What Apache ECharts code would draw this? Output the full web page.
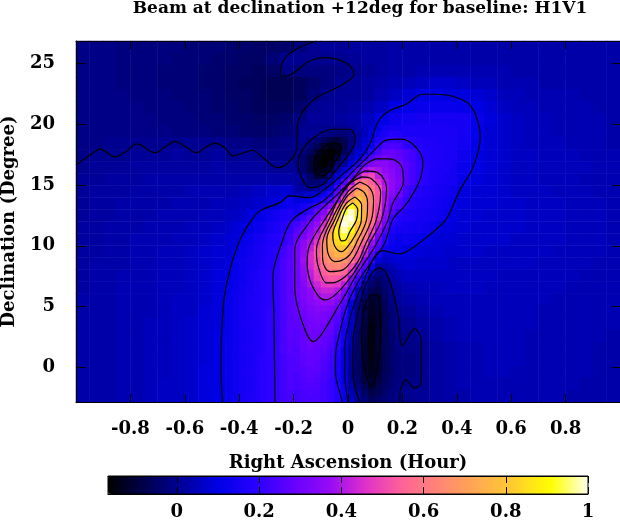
<!DOCTYPE html>
<html>
<head>
<meta charset="utf-8">
<script src="https://cdn.jsdelivr.net/npm/echarts@6/dist/echarts.min.js"></script>
<style>
html,body{margin:0;padding:0;background:#fff}
#main{width:620px;height:521px}
</style>
</head>
<body>
<div id="main"></div>
<script>
var raMin = -1, raMax = 1;
var decMin = -2.85, decMax = 26.85;
var barMin = -0.1675, barMax = 1;
var raTicks = [-0.8,-0.6,-0.4,-0.2,0,0.2,0.4,0.6,0.8];
var decTicks = [0,5,10,15,20,25];
var barTicks = [0,0.2,0.4,0.6,0.8,1];

// beam power in percent, top row first, whole map
var coarse = [
[-1,-1,-1,-2,-2,-2,-2,-2,-3,-3,-3,-4,-4,-5,-5,-4,-2,0,1,1,2,2,2,3,3,3,3,3,3,3,3,3,3,3,3,3,3,3,3,3],
[-1,-1,-1,-2,-2,-2,-2,-3,-3,-3,-4,-4,-5,-5,-3,0,0,0,0,0,1,2,2,3,3,3,3,3,3,3,3,3,3,3,3,3,3,3,3,3],
[-1,-1,-1,-2,-2,-2,-3,-3,-3,-4,-4,-5,-5,-6,-5,-1,-2,-2,-2,-1,0,1,2,3,3,4,4,4,4,4,4,4,3,3,3,3,3,3,3,3],
[-1,-1,-1,-2,-2,-2,-3,-3,-3,-4,-4,-5,-6,-6,-7,-7,-6,-4,-2,0,1,2,3,4,5,6,7,7,6,5,5,4,4,4,3,3,3,3,3,3],
[-1,-1,-1,-1,-2,-2,-2,-3,-3,-3,-4,-5,-5,-6,-7,-7,-6,-3,0,1,1,2,4,6,8,10,10,9,9,8,7,5,5,4,4,4,4,3,3,3],
[-1,-1,-1,-1,-1,-2,-2,-2,-3,-3,-4,-4,-5,-6,-6,-6,-4,0,1,1,2,4,6,10,11,12,12,12,11,10,8,6,5,5,4,4,4,4,3,3],
[-1,-1,-1,-1,-1,-1,-2,-2,-2,-3,-3,-4,-4,-5,-5,-4,-1,1,1,2,3,6,10,13,14,15,15,15,15,12,9,7,6,5,5,4,4,4,4,3],
[-1,-1,-1,-1,-1,-1,-1,-2,-2,-2,-3,-3,-4,-4,-4,-3,0,0,-1,-1,2,6,12,15,16,16,16,16,15,11,8,7,6,5,5,4,4,4,4,3],
[-1,-1,0,0,0,0,0,0,0,0,0,-1,-1,-2,-2,-1,0,-1,-8,-10,0,9,17,21,20,18,17,16,14,11,8,7,6,5,5,5,4,4,4,3],
[-1,0,0,0,1,1,1,2,1,1,2,0,1,0,-1,-1,0,-6,-14,-9,2,14,23,28,24,20,17,16,13,10,8,7,6,6,5,5,5,4,4,4],
[0,1,1,1,2,2,2,2,2,2,3,2,2,2,1,1,-2,-11,-17,0,18,36,36,31,24,20,17,15,12,10,8,7,6,6,5,5,5,5,4,4],
[1,1,2,2,2,3,3,3,3,3,3,3,3,3,3,3,-1,-6,-3,10,30,52,46,36,26,19,17,15,11,9,8,7,6,6,5,5,5,4,4,4],
[1,2,2,2,3,3,3,3,4,4,4,4,5,6,7,8,5,6,13,30,65,65,52,36,21,17,16,13,9,8,8,7,6,6,6,5,5,5,4,4],
[1,2,2,3,3,3,3,4,4,4,5,5,6,7,8,11,10,13,25,55,80,72,52,30,20,16,15,11,9,8,8,7,7,6,6,6,5,5,5,4],
[1,2,2,3,3,3,4,4,4,5,5,6,8,11,14,18,18,25,38,85,95,72,50,28,16,15,13,9,8,8,7,7,7,6,6,6,5,5,5,4],
[2,2,3,3,3,4,4,4,5,5,6,8,10,13,16,20,25,32,50,85,92,68,45,22,14,12,10,8,8,7,7,7,7,6,6,6,5,5,5,4],
[2,2,3,3,4,4,4,5,5,6,7,9,11,14,18,22,30,38,62,85,85,58,35,17,12,10,8,7,7,7,7,7,6,6,6,6,5,5,5,4],
[2,2,3,3,4,4,5,5,6,7,8,9,12,15,18,24,32,42,66,78,70,50,28,10,9,8,7,7,7,7,6,6,6,6,6,5,5,5,5,4],
[2,3,3,3,4,4,5,5,6,7,8,10,13,16,19,24,32,45,62,70,60,38,20,7,8,7,7,6,6,6,6,6,6,6,5,5,5,5,4,4],
[2,3,3,4,4,4,5,5,6,7,9,11,14,17,20,24,31,44,56,58,45,25,0,2,6,6,6,6,6,6,6,5,5,5,5,5,5,4,4,4],
[2,3,3,4,4,4,5,5,6,7,9,11,14,17,20,25,31,40,47,47,29,0,-7,0,4,5,5,6,6,6,5,5,5,5,5,5,4,4,4,4],
[3,3,3,4,4,4,5,6,6,7,9,12,15,18,20,25,30,35,40,38,22,-4,-10,-3,3,4,5,5,5,5,5,5,5,5,5,4,4,4,4,4],
[3,3,3,4,4,4,5,6,6,8,9,12,15,18,20,25,29,33,35,30,12,-10,-11,-5,1,3,4,5,5,5,5,5,5,5,4,4,4,4,4,4],
[3,3,3,4,4,5,5,6,7,8,9,12,15,18,20,25,28,31,32,25,8,-9,-12,-6,0,2,3,4,5,5,5,5,5,5,4,4,4,4,4,4],
[3,3,3,4,4,5,5,6,7,8,10,12,15,18,20,25,27,30,29,22,6,-10,-12,-6,-1,1,3,4,5,5,5,5,5,4,4,4,4,4,4,3],
[3,3,3,4,4,5,5,6,7,8,10,12,15,18,20,25,26,28,27,18,-3,-14,-12,-3,-1,0,2,3,4,4,5,5,5,4,4,4,4,4,3,3],
[3,3,3,4,4,5,5,6,7,8,10,13,15,18,20,24,25,27,24,17,-2,-14,-11,-4,-2,0,2,3,4,4,5,5,5,4,4,4,4,4,3,3],
[3,3,3,4,4,5,5,6,7,9,10,13,15,18,20,24,25,26,23,15,-2,-13,-11,-5,-2,0,2,3,4,4,5,5,4,4,4,4,4,4,3,3],
[3,3,3,4,4,5,6,6,7,9,10,13,15,18,20,24,24,25,22,15,-1,-11,-9,-3,-1,0,2,3,4,4,4,4,4,4,4,4,4,3,3,3],
[3,3,3,4,4,5,6,6,7,9,10,13,15,18,20,24,23,24,22,19,3,-7,-7,-2,0,1,2,3,3,4,4,4,4,4,4,4,3,3,3,3]
];

// left and right shoulders of the lobe, half width cells
var leftCol = 22, leftRow = 13;
var leftShoulder = [
[5,5,6,6,7,7,8,9,11,13],
[6,6,7,9,10,11,13,14,16,17],
[7,8,9,10,12,13,15,16,18,21],
[8,9,11,12,14,15,17,18,20,23],
[8,10,12,13,15,16,18,19,23,26],
[9,11,13,14,15,17,18,20,24,27],
[10,12,13,15,16,18,19,21,24,27],
[11,12,14,15,17,18,19,21,24,27],
[11,13,14,16,17,18,19,21,24,27],
[11,13,15,16,17,18,20,21,24,27],
[11,13,15,16,17,18,20,21,24,27],
[11,13,15,16,17,18,20,21,24,27],
[12,13,15,16,17,18,20,21,24,26],
[12,13,15,16,17,19,20,21,23,25],
[12,13,15,16,17,19,20,21,23,25],
[12,13,15,16,17,19,20,21,23,25],
[12,13,15,16,17,19,20,21,23,24]
];
var rightCol = 48, rightRow = 7;
var rightShoulder = [
[16,16,16,16,16,16,16,16],
[20,19,18,17,17,16,16,16],
[25,23,20,18,17,17,16,16],
[27,24,21,19,17,16,16,15],
[27,24,21,19,17,16,15,15],
[24,21,18,17,16,15,14,13],
[21,18,16,16,15,14,13,12],
[17,16,15,15,14,13,12,10],
[15,14,14,13,12,10,9,9],
[13,12,11,10,9,8,8,8],
[10,9,9,8,8,8,7,7],
[8,8,7,7,7,7,7,6],
[6,6,6,6,6,6,6,6]
];

// finest cells over the hole, the main lobe and the trough
var lobeCol = 32, lobeRow = 14;
var lobe = [
[-1,0,0,0,0,0,0,0,1,3,5,8,11,14,15,15],
[-1,1,1,1,-1,-2,-3,-3,-1,2,5,9,13,16,18,18],
[0,0,-1,-3,-6,-9,-10,-7,-2,3,7,10,17,19,21,21],
[0,-1,-3,-7,-11,-14,-13,-8,-1,4,8,13,20,24,25,24],
[0,-2,-6,-10,-15,-17,-15,-6,1,7,10,19,24,28,29,27],
[-1,-4,-9,-14,-17,-17,-10,-1,5,9,19,25,30,32,30,28],
[-1,-4,-9,-15,-17,-14,-3,2,9,18,28,33,35,35,33,31],
[0,-4,-9,-14,-14,-10,2,8,17,28,38,41,39,36,34,31],
[2,0,-5,-10,-10,1,7,15,25,38,48,50,42,38,35,32],
[2,-1,-3,-4,0,5,14,25,38,56,60,54,46,39,36,33],
[3,2,0,1,5,10,22,33,48,65,68,60,52,41,36,32],
[5,6,7,8,12,18,28,42,60,73,72,62,53,39,34,30],
[9,10,11,14,18,25,36,52,74,82,74,62,53,39,31,26],
[12,15,17,22,28,35,50,70,92,84,72,61,51,38,29,25],
[14,17,21,29,34,43,66,92,99,86,74,61,49,36,26,20],
[18,22,27,33,38,53,77,98,100,87,74,60,46,34,22,18],
[23,27,32,37,45,62,84,100,97,80,70,56,42,31,19,16],
[26,29,34,39,50,70,88,98,91,77,65,51,37,25,17,14],
[28,32,37,43,56,75,87,93,85,72,60,45,32,21,15,12],
[30,35,39,47,65,76,84,88,80,66,54,38,27,19,13,11],
[31,36,42,52,66,74,80,80,72,58,47,33,24,14,12,11],
[32,37,45,53,65,71,75,74,66,53,41,26,15,8,8,10],
[31,38,45,51,62,68,70,67,60,50,32,21,9,6,7,8],
[31,37,44,50,58,63,64,61,50,38,26,12,2,3,5,7],
[30,36,42,48,54,58,58,55,45,30,21,7,-2,0,3,5],
[30,35,41,47,51,53,52,48,35,23,12,-2,-5,-2,2,4],
[30,34,39,43,47,48,46,41,29,17,2,-4,-7,-3,1,3],
[31,33,36,41,43,43,41,33,23,6,-2,-7,-8,-4,0,2],
[30,33,35,38,40,40,37,30,20,4,-4,-10,-10,-5,-1,2],
[29,32,34,36,37,36,33,26,10,1,-7,-12,-10,-6,-1,1],
[29,31,33,34,34,33,30,23,9,-1,-10,-13,-11,-6,-2,0],
[28,30,32,33,32,31,27,20,8,-2,-8,-13,-12,-7,-3,0],
[27,30,31,32,32,29,25,18,7,-3,-9,-14,-12,-7,-3,-1],
[27,29,31,31,30,28,24,16,6,-3,-10,-15,-12,-7,-3,-1],
[26,28,30,30,29,27,23,15,5,-4,-10,-15,-11,-7,-4,-1],
[26,28,30,30,28,26,21,14,4,-4,-11,-15,-11,-7,-4,-1],
[26,28,30,29,28,25,20,13,3,-5,-11,-15,-11,-7,-4,-1],
[25,28,29,28,27,24,19,10,2,-5,-11,-15,-11,-7,-4,-2],
[25,27,28,28,26,23,18,10,1,-5,-11,-15,-11,-7,-4,-2],
[25,27,28,27,25,23,17,10,1,-5,-11,-14,-11,-7,-4,-2],
[25,26,27,27,25,22,17,10,1,-5,-11,-14,-11,-7,-4,-2],
[24,26,27,26,24,22,16,10,0,-5,-10,-13,-10,-6,-4,-2],
[24,25,26,25,24,21,16,11,1,-4,-9,-11,-9,-6,-3,-2],
[24,25,25,25,23,21,18,12,2,-2,-7,-10,-8,-5,-3,-1],
[23,24,25,24,23,21,19,13,4,0,-5,-8,-7,-4,-2,-1],
[23,24,24,24,23,21,18,12,6,1,-3,-6,-5,-3,-2,0]
];

// contour lines as [ra, dec]
var contourWave = [[-1,16.65],[-0.948,17.47],[-0.911,17.96],[-0.856,17.31],[-0.819,17.71],[-0.776,18.38],[-0.709,17.66],[-0.673,18.13],[-0.636,18.6],[-0.596,18.13],[-0.556,17.66],[-0.522,18.13],[-0.489,18.44],[-0.452,18.05],[-0.423,17.39],[-0.386,17.64],[-0.35,17.86],[-0.313,17.25],[-0.258,16.43],[-0.214,16.98],[-0.188,18.08],[-0.185,20.03],[-0.159,21.26],[-0.116,22.19],[-0.019,23.29],[0.022,24.11],[0,24.93],[-0.079,25.48],[-0.141,25.21],[-0.226,23.97],[-0.248,23.97],[-0.244,24.93],[-0.202,26.03],[-0.116,26.85]];
var contourHoleOuter = [[-0.183,17.25],[-0.141,18.63],[-0.055,19.59],[0.006,19.59],[0.027,18.77],[0.006,17.66],[-0.037,16.43],[-0.092,15.07],[-0.141,14.79],[-0.171,15.61],[-0.183,16.71],[-0.183,17.25]];
var contourHoleInner = [[-0.128,16.71],[-0.104,17.8],[-0.055,18.49],[-0.024,18.08],[-0.049,16.84],[-0.092,15.75],[-0.122,16.02],[-0.128,16.71]];
var contour01 = [[-0.461,-2.84],[-0.467,-0.21],[-0.465,2.53],[-0.456,5.55],[-0.434,8.02],[-0.397,10.48],[-0.354,12.13],[-0.324,12.87],[-0.251,13.55],[-0.214,14.1],[-0.141,13.96],[-0.093,14.52],[-0.019,15.89],[0.043,17.12],[0.08,18.36],[0.116,20.41],[0.164,21.23],[0.214,21.65],[0.274,22.47],[0.324,22.47],[0.434,21.86],[0.471,20.68],[0.486,18.9],[0.459,16.43],[0.41,14.52],[0.361,12.19],[0.3,10.9],[0.226,9.66],[0.19,9.33],[0.128,9.61],[0.049,6.64],[0.006,3.91],[-0.012,1.44],[-0.012,-0.45],[0,-2.84]];
var contour02 = [[-0.269,-2.84],[-0.272,3.91],[-0.276,7.47],[-0.244,10.21],[-0.208,12.05],[-0.141,13.12],[-0.093,13.64],[-0.03,15.01],[0.017,16.08],[0.061,17.06],[0.098,17.89],[0.141,18.69],[0.196,18.77],[0.251,18.08],[0.275,16.84],[0.263,15.34],[0.214,13.42],[0.165,12.19],[0.135,10.24],[0.098,9.01],[0.049,7.47],[0,5.3],[-0.037,2.26],[-0.046,0.89],[-0.046,-0.45],[-0.03,-2.1],[-0.021,-2.84]];
var contourTroughOuter = [[0.043,-2.84],[0.018,-0.45],[0.018,2.01],[0.037,4.48],[0.068,6.95],[0.116,8.18],[0.147,7.47],[0.183,4.48],[0.2,1.77],[0.245,3.17],[0.269,2.26],[0.269,-1.27],[0.245,-1.69],[0.214,-1.03],[0.19,-2.4],[0.19,-2.84]];
var contourTroughInner = [[0.086,5.96],[0.114,5.69],[0.12,2.84],[0.098,-1.27],[0.086,-1.58],[0.068,-0.76],[0.049,2.26],[0.061,5],[0.086,5.96]];
var contour03 = [[0.102,17.15],[0.153,17.15],[0.196,16.57],[0.204,15.34],[0.164,13.45],[0.146,12.05],[0.098,9.9],[0.031,7.61],[-0.006,6.13],[-0.043,4.73],[-0.079,3.36],[-0.104,2.53],[-0.128,2.12],[-0.171,3.91],[-0.196,6.62],[-0.196,9.66],[-0.141,11.96],[-0.093,13.12],[-0.045,14.1],[0.017,15.5],[0.061,16.65],[0.102,17.15]];
var contour04 = [[0.061,16.16],[0.109,16.02],[0.142,14.76],[0.123,12.13],[0.08,10.24],[0.037,8.29],[-0.006,6.95],[-0.055,5.82],[-0.086,5.55],[-0.133,6.78],[-0.15,8.59],[-0.141,10.07],[-0.086,12.13],[-0.012,14.6],[0.032,15.75],[0.061,16.16]];
var contour05 = [[0.05,15.67],[0.087,15.5],[0.12,14.43],[0.104,12.13],[0.065,10.16],[0.036,8.68],[-0.012,7.44],[-0.06,6.95],[-0.079,6.95],[-0.111,8.43],[-0.116,9.66],[-0.071,12.13],[-0.008,14.84],[0.05,15.67]];
var contour06 = [[0.043,15.25],[0.08,14.76],[0.094,13.77],[0.086,12.13],[0.05,10.32],[0.021,9.01],[-0.019,8.02],[-0.067,7.88],[-0.093,8.84],[-0.094,10.07],[-0.06,12.13],[-0.001,14.43],[0.043,15.25]];
var contour07 = [[0.032,14.76],[0.061,14.35],[0.072,13.53],[0.068,12.13],[0.036,10.49],[0.006,9.25],[-0.027,8.76],[-0.049,8.7],[-0.074,9.42],[-0.078,10.49],[-0.049,12.13],[-0.008,13.94],[0.032,14.76]];
var contour08 = [[0.025,14.02],[0.05,13.36],[0.049,12.13],[0.025,10.81],[-0.005,9.83],[-0.024,9.52],[-0.049,9.99],[-0.056,10.9],[-0.038,12.13],[-0.008,13.45],[0.025,14.02]];
var contour09 = [[0.017,13.53],[0.036,12.96],[0.031,12.13],[0.006,11.14],[-0.008,10.49],[-0.023,10.4],[-0.034,11.14],[-0.023,12.13],[-0.005,13.12],[0.017,13.53]];
var contours = [contourWave,contourHoleOuter,contourHoleInner,contour01,contour02,contourTroughOuter,contourTroughInner,contour03,contour04,contour05,contour06,contour07,contour08,contour09];

var palette = ['#000000','#00004d','#00009a','#0000e7','#2800ff','#6400ff','#960af5','#e132c8','#ff6496','#ff8773','#ffaa50','#ffcd2d','#ffff00','#ffffeb'];

var labelFont = {fontFamily:'DejaVu Serif',fontWeight:'bold',fontSize:18,color:'#000'};

function cells(rows,col0,row0,rowCount){
	var out = [];
	rows.forEach(function(row,r){
		row.forEach(function(v,c){
			out.push([col0+c,rowCount-1-(row0+r),v/100]);
		});
	});
	return out;
}

function indexes(n){
	var a = [];
	for(var i=0;i<n;i++) a.push(i);
	return a;
}

function frameAxis(pos,min,max,ticks,len,margin,extra){
	var ax = {
		type:'value',
		position:pos,
		min:min,
		max:max,
		z:10,
		splitLine:{show:false},
		axisLine:{show:true,onZero:false,lineStyle:{color:'#000',width:1}},
		axisTick:{show:true,inside:true,length:len,customValues:ticks,lineStyle:{color:'#000',width:1}},
		axisLabel:margin?Object.assign({show:true,customValues:ticks,margin:margin},labelFont):{show:false}
	};
	return Object.assign(ax,extra||{});
}

var series = [
	{type:'heatmap',xAxisIndex:0,yAxisIndex:0,data:cells(coarse,0,0,30),animation:false,z:1},
	{type:'heatmap',xAxisIndex:1,yAxisIndex:0,data:cells(leftShoulder,leftCol,leftRow,30).concat(cells(rightShoulder,rightCol,rightRow,30)),animation:false,z:2},
	{type:'heatmap',xAxisIndex:1,yAxisIndex:1,data:cells(lobe,lobeCol,lobeRow,60),animation:false,z:2}
];
contours.forEach(function(c){
	series.push({
		type:'line',xAxisIndex:2,yAxisIndex:2,data:c,smooth:0.35,showSymbol:false,symbol:'none',
		lineStyle:{color:'#000',width:1.2},animation:false,silent:true,z:3
	});
});

var myChart = echarts.init(document.getElementById('main'),null,{renderer:'canvas'});
myChart.setOption({
	backgroundColor:'#fff',
	animation:false,
	title:{
		text:'Beam at declination +12deg for baseline: H1V1',
		left:355,top:-5,textAlign:'center',
		textStyle:{fontFamily:'DejaVu Serif',fontWeight:'bold',fontSize:17,color:'#000'}
	},
	grid:[
		{left:76,top:41,width:544,height:361,outerBoundsMode:'none'},
		{left:108,top:476,width:480,height:18,outerBoundsMode:'none',show:true,borderColor:'#000',borderWidth:1,backgroundColor:'transparent',z:10}
	],
	xAxis:[
		{type:'category',gridIndex:0,show:false,data:indexes(40)},
		{type:'category',gridIndex:0,show:false,data:indexes(80)},
		frameAxis('bottom',raMin,raMax,raTicks,8,18,{gridIndex:0,name:'Right Ascension (Hour)',nameLocation:'center',nameGap:52,nameTextStyle:labelFont}),
		frameAxis('top',raMin,raMax,raTicks,8,0,{gridIndex:0}),
		frameAxis('bottom',barMin,barMax,barTicks,7,9,{gridIndex:1}),
		frameAxis('top',barMin,barMax,barTicks,7,0,{gridIndex:1})
	],
	yAxis:[
		{type:'category',gridIndex:0,show:false,data:indexes(30)},
		{type:'category',gridIndex:0,show:false,data:indexes(60)},
		frameAxis('left',decMin,decMax,decTicks,10,21,{gridIndex:0,name:'Declination (Degree)',nameLocation:'center',nameGap:58,nameRotate:90,nameTextStyle:labelFont}),
		frameAxis('right',decMin,decMax,decTicks,8,0,{gridIndex:0}),
		{type:'value',gridIndex:1,show:false,min:0,max:1}
	],
	visualMap:{
		type:'continuous',show:true,min:barMin,max:barMax,seriesIndex:[0,1,2],
		orient:'horizontal',left:108,top:476,itemWidth:18,itemHeight:480,padding:0,
		calculable:false,hoverLink:false,text:null,
		inRange:{color:palette},z:4
	},
	series:series
});
</script>
</body>
</html>
